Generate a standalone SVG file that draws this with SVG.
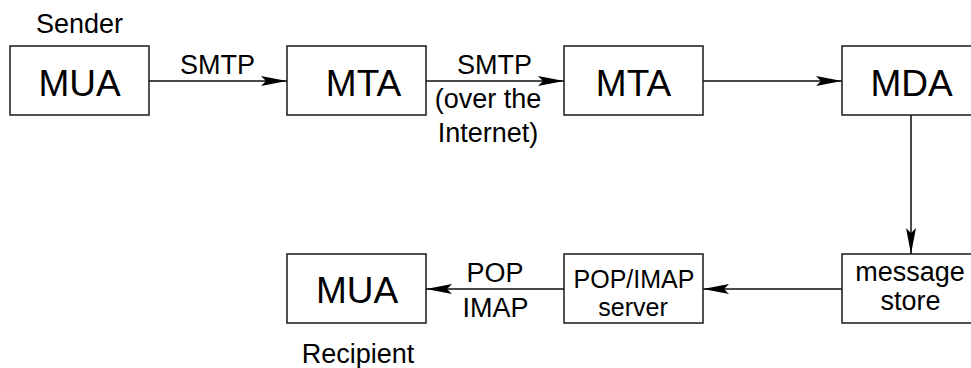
<svg xmlns="http://www.w3.org/2000/svg" width="971" height="368" viewBox="0 0 971 368">
<style>
.box{fill:#fff;stroke:#1a1a1a;stroke-width:1.5}
.big{font-family:"Liberation Sans",Arial,sans-serif;font-size:37px;fill:#000;text-anchor:middle}
.lbl{font-family:"Liberation Sans",Arial,sans-serif;font-size:27px;fill:#000;text-anchor:middle}
.sm{font-family:"Liberation Sans",Arial,sans-serif;font-size:25px;fill:#000;text-anchor:middle}
.edge{fill:none;stroke:#4a4a4a;stroke-width:2;marker-end:url(#arr)}
</style>
<defs>
<marker id="arr" viewBox="0 0 26 10" refX="26" refY="5" markerWidth="26" markerHeight="10" markerUnits="userSpaceOnUse" orient="auto">
<path d="M0,0 L26,5 L0,10 L5,5 Z" fill="#000"/>
</marker>
</defs>
<rect width="971" height="368" fill="#fff"/>
<g id="connectors">
<line class="edge" x1="149" y1="81" x2="287" y2="81"/>
<line class="edge" x1="426" y1="81" x2="564" y2="81"/>
<line class="edge" x1="703" y1="81" x2="842" y2="81"/>
<line class="edge" x1="911" y1="115" x2="911" y2="254"/>
<line class="edge" x1="842" y1="289" x2="703" y2="289"/>
<line class="edge" x1="564" y1="289" x2="426" y2="289"/>
<text class="lbl" x="217.5" y="74">SMTP</text>
<text class="lbl" x="494.5" y="74">SMTP</text>
<text class="lbl" x="488" y="108">(over the</text>
<text class="lbl" x="488" y="142">Internet)</text>
<text class="lbl" x="495" y="282">POP</text>
<text class="lbl" x="495.5" y="317">IMAP</text>
</g>
<g id="sender-mua">
<text class="lbl" x="79.5" y="33">Sender</text>
<rect class="box" x="10" y="46" width="139" height="69"/>
<text class="big" x="79.5" y="96">MUA</text>
</g>
<g id="mta1">
<rect class="box" x="287" y="46" width="139" height="69"/>
<text class="big" x="363.5" y="96">MTA</text>
</g>
<g id="mta2">
<rect class="box" x="564" y="46" width="139" height="69"/>
<text class="big" x="633.5" y="96">MTA</text>
</g>
<g id="mda">
<rect class="box" x="842" y="46" width="139" height="69"/>
<text class="big" x="911.5" y="96">MDA</text>
</g>
<g id="message-store">
<rect class="box" x="842" y="254" width="139" height="69"/>
<text class="lbl" x="910" y="281">message</text>
<text class="lbl" x="910.5" y="310">store</text>
</g>
<g id="popimap-server">
<rect class="box" x="564" y="254" width="139" height="69"/>
<text class="sm" x="634" y="288">POP/IMAP</text>
<text class="sm" x="633" y="316">server</text>
</g>
<g id="recipient-mua">
<rect class="box" x="287" y="254" width="139" height="69"/>
<text class="big" x="357" y="303">MUA</text>
<text class="lbl" x="358" y="363">Recipient</text>
</g>
</svg>
